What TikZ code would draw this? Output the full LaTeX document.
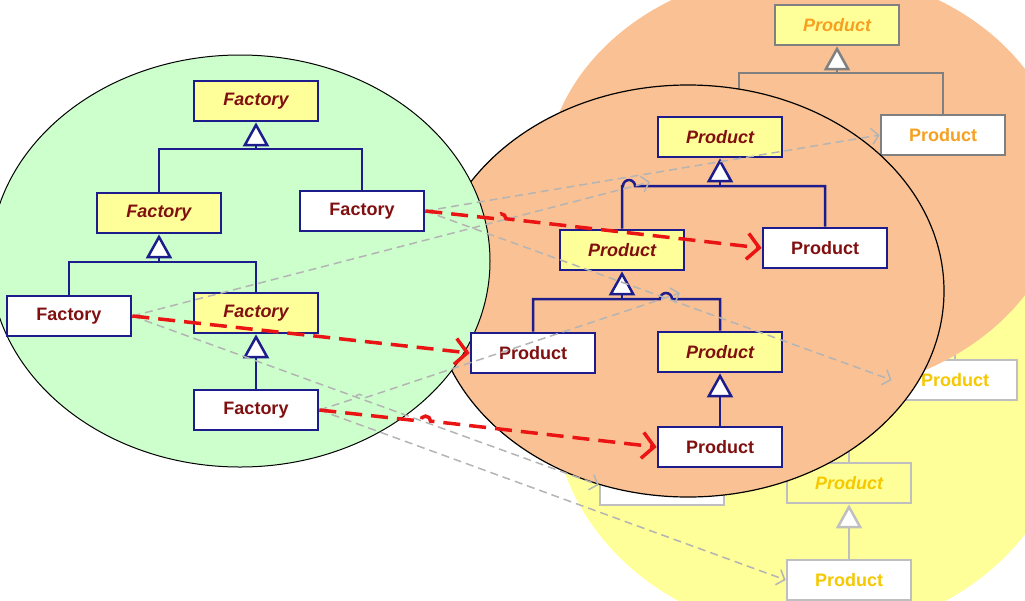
\documentclass[tikz,border=0pt]{standalone}
\usepackage{fontspec}
\setmainfont{Liberation Sans}
\usetikzlibrary{calc}
\usetikzlibrary{arrows.meta}
\definecolor{umlblue}{RGB}{28,28,140}
\definecolor{umlred}{RGB}{128,16,16}
\definecolor{abstrfill}{RGB}{255,255,153}
\definecolor{greenbg}{RGB}{204,255,204}
\definecolor{orangebg}{RGB}{250,194,148}
\definecolor{yellowbg}{RGB}{255,255,153}
\definecolor{fadeorange}{RGB}{245,160,32}
\definecolor{fadegold}{RGB}{245,200,0}
\definecolor{createred}{RGB}{235,20,20}
\definecolor{ghostgrey}{RGB}{180,180,180}
\tikzset{%
  abstr/.style   = {draw = umlblue, line width = 2.7pt, fill = abstrfill, minimum width = 124pt,
    minimum height = 40pt, inner sep = 0pt, text = umlred,
    font = \fontsize{18}{20}\selectfont\bfseries\itshape},
  concr/.style   = {abstr, fill = white, font = \fontsize{18}{20}\selectfont\bfseries},
  oabstr/.style  = {abstr, draw = gray, text = fadeorange}, % faded, orange family
  oconcr/.style  = {concr, draw = gray, text = fadeorange},
  yabstr/.style  = {abstr, draw = gray!50, text = fadegold}, % faded, yellow family
  yconcr/.style  = {concr, draw = gray!50, text = fadegold},
  uml/.style     = {draw = umlblue, line width = 2.5pt},
  oline/.style   = {draw = gray, line width = 2.5pt},
  yline/.style   = {draw = gray!50, line width = 2.5pt},
  inh/.style     = {-{Triangle[length = 24pt, width = 26pt, fill = white]}},
  ghost/.style   = {draw = ghostgrey, line width = 1.5pt, dash pattern = on 8pt off 5pt,
    -{Straight Barb[length = 7pt, width = 16pt]}},
  create/.style  = {draw = createred, line width = 3.5pt, dash pattern = on 17pt off 9pt,
    -{Straight Barb[length = 12pt, width = 26pt]}}
}
\begin{document}
\begin{tikzpicture}[x = 1pt, y = -1pt]
    \useasboundingbox (0, 0) rectangle (1025, 600);

    %yellow family
    \fill[yellowbg] (812, 400) ellipse [x radius = 260pt, y radius = 234pt];
    \node[yconcr] (ypright) at (955, 380) {Product};
    \node[yabstr] (ypsub) at (849, 483) {Product};
    \node[yconcr] (ypbot) at (849, 580) {Product};
    \node[yconcr] (ypleft) at (662, 485) {};
    \draw[yline] (ypright.north) -- ++(0, -40);
    \draw[yline] (ypsub.north) -- ++(0, -40);
    \draw[yline, inh] (ypbot.north) -- (ypsub.south);

    %orange family
    \fill[orangebg] (805, 182) ellipse [x radius = 260pt, y radius = 212pt];
    \node[oabstr] (optop) at (837, 25) {Product};
    \node[oconcr] (opright) at (943, 135) {Product};
    \coordinate (jo) at (837, 73);
    \coordinate (ostub) at (739, 120);
    \draw[oline] (ostub) |- (jo) -| (opright.north);
    \draw[oline, inh] (jo) -- (optop.south);

    %ellipses
    \filldraw[fill = orangebg, draw = black, line width = 1.2pt] (688, 291) ellipse [x radius = 256pt, y radius = 206pt];
    \filldraw[fill = greenbg, draw = black, line width = 1pt] (240, 261) ellipse [x radius = 250pt, y radius = 206pt];

    %factories
    \node[abstr] (ftop) at (256, 101) {Factory};
    \node[abstr] (fmid) at (159, 213) {Factory};
    \node[concr] (fright) at (362, 211) {Factory};
    \node[concr] (fleft) at (69, 316) {Factory};
    \node[abstr] (fsub) at (256, 313) {Factory};
    \node[concr] (fbot) at (256, 410) {Factory};
    \coordinate (jf1) at (256, 149);
    \draw[uml] (fmid.north) |- (jf1) -| (fright.north);
    \draw[uml, inh] (jf1) -- (ftop.south);
    \coordinate (jf2) at (159, 262);
    \draw[uml] (fleft.north) |- (jf2) -| (fsub.north);
    \draw[uml, inh] (jf2) -- (fmid.south);
    \draw[uml, inh] (fbot.north) -- (fsub.south);

    %products
    \node[abstr] (ptop) at (720, 137) {Product};
    \node[concr] (pright) at (825, 248) {Product};
    \node[abstr] (pmid) at (622, 250) {Product};
    \node[concr] (pleft) at (533, 353) {Product};
    \node[abstr] (psub) at (720, 352) {Product};
    \node[concr] (pbot) at (720, 447) {Product};
    \coordinate (jp1) at (720, 186);
    \draw[uml] (pmid.north) -- (pmid.north |- jp1) -- ++(1, 0) arc[start angle = 180, end angle = 0, radius = 6pt] -| (pright.north);
    \draw[uml, inh] (jp1) -- (ptop.south);
    \coordinate (jp2) at (622, 299);
    \draw[uml] (pleft.north) |- (jp2) -- ++(38, 0) arc[start angle = 180, end angle = 0, radius = 6pt] -| (psub.north);
    \draw[uml, inh] (jp2) -- (pmid.south);
    \draw[uml, inh] (pbot.north) -- (psub.south);

    %faded creations
    \coordinate (gend1) at (650, 182);
    \coordinate (gend2) at (680, 293);
    \draw[ghost] (fright.east) -- (opright.west);
    \draw[ghost] (fright.east) -- (ypright.west);
    \draw[ghost] (fleft.east) -- (gend1);
    \draw[ghost] (fleft.east) -- (ypleft.west);
    \draw[ghost] (fbot.east) -- ($(fbot.east)!0.1!(gend2)$) arc[start angle = 180, end angle = 0, radius = 4pt] -- (gend2);
    \draw[ghost] (fbot.east) -- (ypbot.west);

    %creations
    \draw[create] (fright.east) -- ($(fright.east)!0.21!(pright.west)$) arc[start angle = 180, end angle = 0, radius = 5pt] -- (pright.west);
    \draw[create] (fleft.east) -- (pleft.west);
    \draw[create] (fbot.east) -- ($(fbot.east)!0.3!(pbot.west)$) arc[start angle = 180, end angle = 0, radius = 5pt] -- (pbot.west);
\end{tikzpicture}
\end{document}
